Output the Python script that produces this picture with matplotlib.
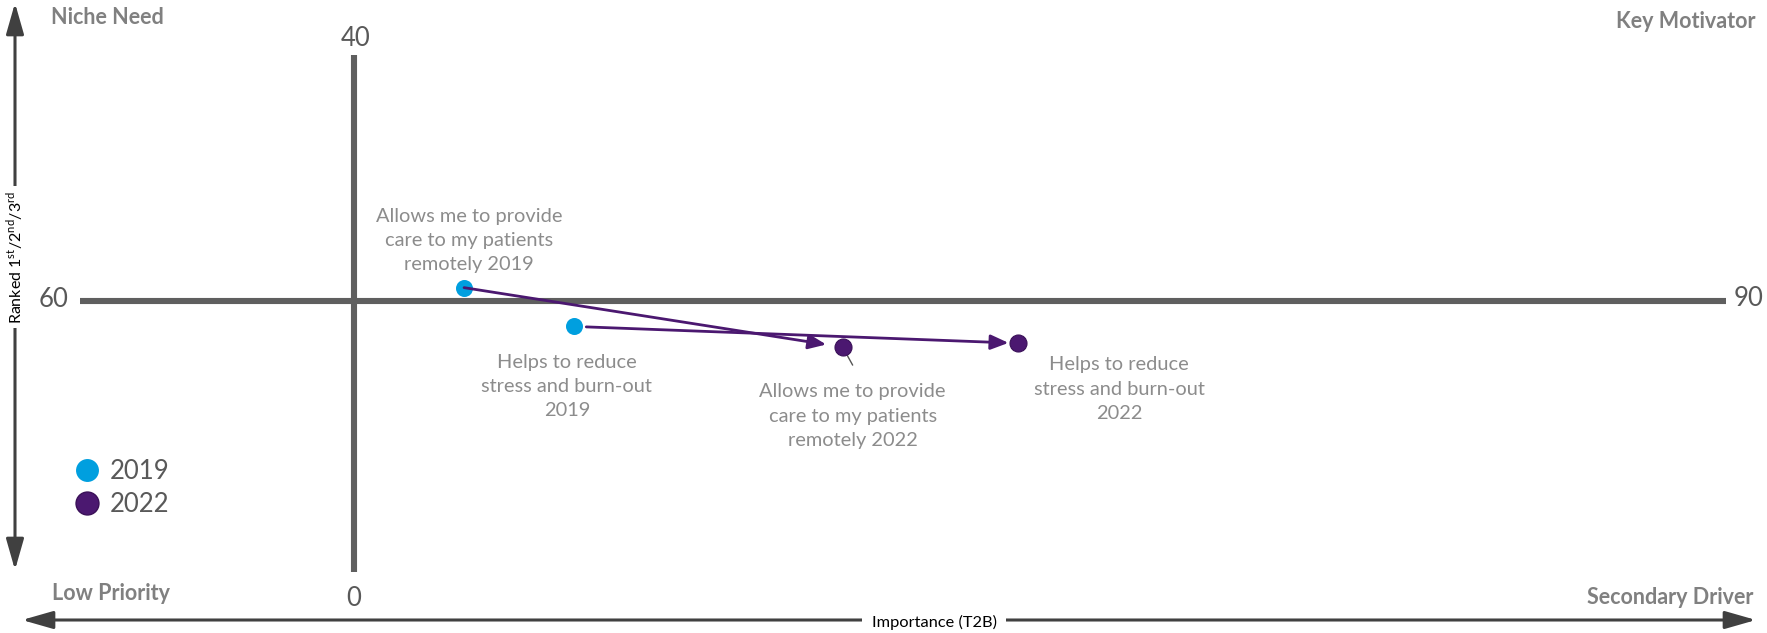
import matplotlib
matplotlib.use("Agg")
import matplotlib.pyplot as plt
from matplotlib.lines import Line2D

plt.rcParams['font.family'] = ['Lato', 'DejaVu Sans']

# Importance (T2B) on x, ranked 1st/2nd/3rd on y
x_range = [60, 90]
y_range = [0, 40]
x_cross = 65
y_cross = 21

statements = ["Allows me to provide\ncare to my patients\nremotely",
              "Helps to reduce\nstress and burn-out\n"]
x_2019 = [67.0, 69.0]
y_2019 = [22.0, 19.0]
x_2022 = [73.9, 77.1]
y_2022 = [17.4, 17.7]

c2019 = "#009FDF"
c2022 = "#4B1870"
arrow_c = "#4B1870"
axis_gray = "#5F5F5F"
label_gray = "#8C8C8C"
num_gray = "#595959"

W, H = 1767, 633
fig = plt.figure(figsize=(W / 100, H / 100), dpi=100)
ax = fig.add_axes([0, 0, 1, 1])
ax.set_axis_off()

# map the value ranges onto the canvas
px_x = (1726 - 80) / (x_range[1] - x_range[0])
px_y = (572 - 55) / (y_range[1] - y_range[0])
ax.set_xlim(x_range[0] - 80 / px_x, x_range[1] + (W - 1726) / px_x)
ax.set_ylim(y_range[0] - (H - 572) / px_y, y_range[1] + 55 / px_y)

# quadrant cross
ax.plot(x_range, [y_cross, y_cross], color=axis_gray, lw=4.4, solid_capstyle='butt', zorder=1)
ax.plot([x_cross, x_cross], y_range, color=axis_gray, lw=4.4, solid_capstyle='butt', zorder=1)

numkw = dict(textcoords='offset pixels', fontsize=18.5, color=num_gray, ha='center', va='center')
ax.annotate(str(y_range[1]), (x_cross, y_range[1]), xytext=(1, 16), **numkw)
ax.annotate(str(y_range[0]), (x_cross, y_range[0]), xytext=(-1, -26), **numkw)
ax.annotate(str(x_range[0]), (x_range[0], y_cross), xytext=(-26, 1), **numkw)
ax.annotate(str(x_range[1]), (x_range[1], y_cross), xytext=(23, 2), **numkw)

# movement 2019 -> 2022
shrink_start = [0, 9]
shrink_end = [12, 7]
for i in range(len(statements)):
    ax.annotate("", xy=(x_2022[i], y_2022[i]), xytext=(x_2019[i], y_2019[i]),
                arrowprops=dict(arrowstyle='-|>,head_length=0.6,head_width=0.25',
                                mutation_scale=18, color=arrow_c, lw=2,
                                shrinkA=shrink_start[i], shrinkB=shrink_end[i]),
                zorder=3)

ax.scatter(x_2019, y_2019, s=150, color=c2019, zorder=2, linewidths=0)
ax.scatter(x_2022, y_2022, s=150, color=c2022, edgecolors="#3A1058", linewidths=0.8, zorder=4)

# point labels
off_2019 = [(5, 47), (-7, -60)]
off_2022 = [(10, -69), (101, -46)]
lblkw = dict(textcoords='offset pixels', fontsize=14.4, color=label_gray,
             ha='center', va='center', linespacing=1.52, zorder=5)
for i, s in enumerate(statements):
    sep = " " if s.endswith("remotely") else ""
    ax.annotate(s + sep + "2019", (x_2019[i], y_2019[i]), xytext=off_2019[i], **lblkw)
    ax.annotate(s + sep + "2022", (x_2022[i], y_2022[i]), xytext=off_2022[i], **lblkw)

# leader line for the 2022 remote-care label
ax.annotate("", xy=(x_2022[0], y_2022[0]), xytext=(10, -18), textcoords='offset pixels',
            arrowprops=dict(arrowstyle='-', color="#555555", lw=1, shrinkA=0, shrinkB=0),
            zorder=3)

# outer axis arrows
dark = "#404040"
fig.add_artist(matplotlib.patches.FancyArrowPatch(
    (15 / W, (H - 570) / H), (15 / W, (H - 3) / H), transform=fig.transFigure,
    arrowstyle='<|-|>,head_length=0.7,head_width=0.2', mutation_scale=27,
    color=dark, lw=2.2, shrinkA=0, shrinkB=0))
fig.add_artist(matplotlib.patches.FancyArrowPatch(
    (22 / W, (H - 620) / H), (1756 / W, (H - 620) / H), transform=fig.transFigure,
    arrowstyle='<|-|>,head_length=0.7,head_width=0.2', mutation_scale=27,
    color=dark, lw=2.2, shrinkA=0, shrinkB=0))

boxkw = dict(facecolor='white', edgecolor='none', pad=3)
fig.text(15 / W, (H - 257) / H,
         r'Ranked 1$^{\mathregular{st}}$/2$^{\mathregular{nd}}$/3$^{\mathregular{rd}}$',
         rotation=90, ha='center', va='center', fontsize=11.5, color='black', bbox=boxkw)
fig.text(934 / W, (H - 622) / H, "Importance (T2B)", ha='center', va='center',
         fontsize=11.8, color='black', bbox=dict(facecolor='white', edgecolor='none', pad=7))

# quadrant names
qkw = dict(fontsize=15.5, fontweight='bold', color="#808080", va='center')
fig.text(51 / W, (H - 18) / H, "Niche Need", ha='left', **qkw)
fig.text(1755 / W, (H - 22) / H, "Key Motivator", ha='right', **qkw)
fig.text(52 / W, (H - 594) / H, "Low Priority", ha='left', **qkw)
fig.text(1753 / W, (H - 598) / H, "Secondary Driver", ha='right', **qkw)

# legend
handles = [Line2D([], [], ls='none', marker='o', markersize=16.5, color=c2019, markeredgewidth=0),
           Line2D([], [], ls='none', marker='o', markersize=16.5, color=c2022,
                  markeredgecolor="#3A1058", markeredgewidth=1)]
leg = fig.legend(handles, ["2019", "2022"], loc='center left',
                 bbox_to_anchor=(75 / W, (H - 488) / H), frameon=False,
                 fontsize=18.5, handlelength=0.9, handletextpad=0.45, labelspacing=0.32,
                 borderpad=0, borderaxespad=0)
for t in leg.get_texts():
    t.set_color(num_gray)

fig.savefig("out.png", dpi=100, facecolor='white')
